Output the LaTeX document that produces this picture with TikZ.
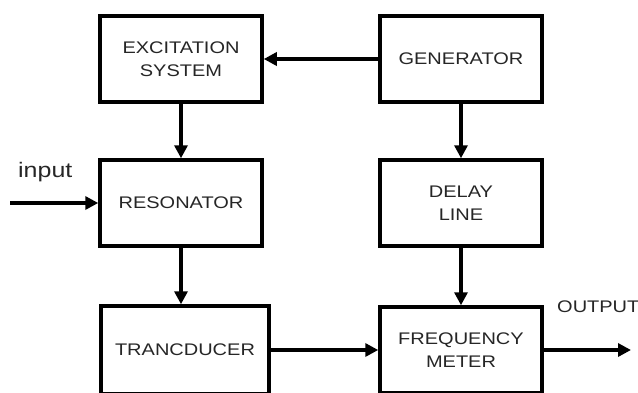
\documentclass[tikz,border=0pt]{standalone}
\usepackage{fontspec}
\setmainfont{Liberation Sans}[FakeStretch=1.19]
\usetikzlibrary{arrows.meta}

\tikzset{
  block/.style={draw, line width=3.5pt, minimum width=162pt, minimum height=86pt,
    align=center, text=black!85, font=\fontsize{16.8}{22.7}\selectfont},
  flow/.style={line width=3.5pt, -{Triangle[length=13pt,width=13pt]}},
  tag/.style={inner sep=0pt, text=black!85}
}

\begin{document}
\begin{tikzpicture}[x=1pt,y=-1pt]
  \useasboundingbox (0,0) rectangle (638,392);
  \clip (0,0) rectangle (638,392);

  % blocks
  \node[block] (exc) at (181,59) {EXCITATION\\SYSTEM};
  \node[block] (gen) at (461,59) {GENERATOR};
  \node[block] (res) at (181,203) {RESONATOR};
  \node[block] (dly) at (461,203) {DELAY\\LINE};
  \node[block, minimum width=168pt, minimum height=88pt] (trc) at (185,350) {TRANCDUCER};
  \node[block] (frq) at (461,350) {FREQUENCY\\METER};

  % input and output ends
  \coordinate (in) at (10,203);
  \coordinate (out) at (631,350);
  \node[tag, anchor=base west, font=\fontsize{21}{24}\selectfont] (inlbl) at (18,177) {input};
  \node[tag, anchor=base west, font=\fontsize{16.8}{20}\selectfont] (outlbl) at (557,312) {OUTPUT};

  % connections
  \draw[flow] (gen) -- (exc);
  \draw[flow] (exc) -- (res);
  \draw[flow] (gen) -- (dly);
  \draw[flow] (in) -- (res.west);
  \draw[flow] (res.south) -- (res.south |- trc.north);
  \draw[flow] (dly) -- (frq);
  \draw[flow] (trc) -- (frq);
  \draw[flow] (frq.east) -- (out);
\end{tikzpicture}
\end{document}
